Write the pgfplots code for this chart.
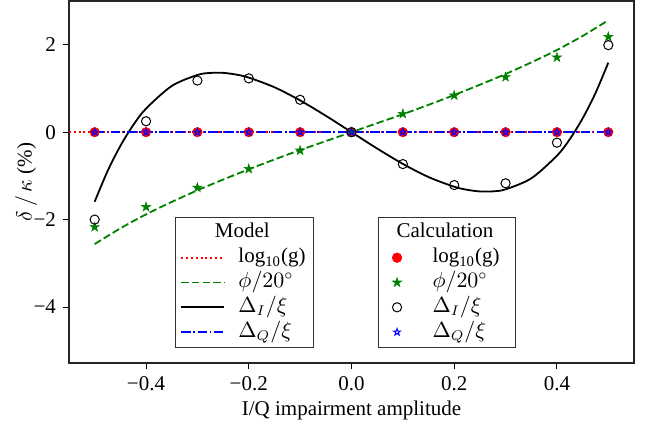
\documentclass[border=0pt]{standalone}
\usepackage{fontspec}
\setmainfont{Liberation Serif}
\usepackage{pgfplots}
\pgfplotsset{compat=1.18}

\pgfdeclareplotmark{fstar}{%
 \pgfpathmoveto{\pgfpointpolar{90}{\pgfplotmarksize}}%
 \pgfpathlineto{\pgfpointpolar{126}{0.382\pgfplotmarksize}}%
 \pgfpathlineto{\pgfpointpolar{162}{\pgfplotmarksize}}%
 \pgfpathlineto{\pgfpointpolar{198}{0.382\pgfplotmarksize}}%
 \pgfpathlineto{\pgfpointpolar{234}{\pgfplotmarksize}}%
 \pgfpathlineto{\pgfpointpolar{270}{0.382\pgfplotmarksize}}%
 \pgfpathlineto{\pgfpointpolar{306}{\pgfplotmarksize}}%
 \pgfpathlineto{\pgfpointpolar{342}{0.382\pgfplotmarksize}}%
 \pgfpathlineto{\pgfpointpolar{18}{\pgfplotmarksize}}%
 \pgfpathlineto{\pgfpointpolar{54}{0.382\pgfplotmarksize}}%
 \pgfpathclose
 \pgfusepathqfillstroke}
\pgfdeclareplotmark{ostar}{%
 \pgfpathmoveto{\pgfpointpolar{90}{\pgfplotmarksize}}%
 \pgfpathlineto{\pgfpointpolar{126}{0.382\pgfplotmarksize}}%
 \pgfpathlineto{\pgfpointpolar{162}{\pgfplotmarksize}}%
 \pgfpathlineto{\pgfpointpolar{198}{0.382\pgfplotmarksize}}%
 \pgfpathlineto{\pgfpointpolar{234}{\pgfplotmarksize}}%
 \pgfpathlineto{\pgfpointpolar{270}{0.382\pgfplotmarksize}}%
 \pgfpathlineto{\pgfpointpolar{306}{\pgfplotmarksize}}%
 \pgfpathlineto{\pgfpointpolar{342}{0.382\pgfplotmarksize}}%
 \pgfpathlineto{\pgfpointpolar{18}{\pgfplotmarksize}}%
 \pgfpathlineto{\pgfpointpolar{54}{0.382\pgfplotmarksize}}%
 \pgfpathclose
 \pgfusepathqstroke}

\definecolor{mplgreen}{RGB}{0,128,0}
\newcommand{\chartfont}{\fontsize{10.5}{12.6}\selectfont}

\begin{document}
\begin{tikzpicture}
\pgfplotsset{
  common/.style={
    scale only axis, width=282.5pt, height=181pt,
    xmin=-0.55, xmax=0.55, ymin=-5.28, ymax=3.0,
  },
  legbox/.style={
    legend cell align=left,
    legend style={draw=black!80, line width=0.5pt, fill=white,
      inner xsep=2.5pt, inner ysep=1.5pt, column sep=5pt,
      nodes={inner sep=1.5pt, text height=7.2pt, text depth=2.2pt, font=\chartfont},
      anchor=south west},
  },
}
\begin{axis}[common, name=ax,
  tick align=outside, xtick pos=bottom, ytick pos=left,
  xtick={-0.4,-0.2,0,0.2,0.4}, xticklabels={−0.4,−0.2,0.0,0.2,0.4},
  ytick={-4,-2,0,2}, yticklabels={−4,−2,0,2},
  tick label style={font=\chartfont},
  label style={font=\chartfont},
  major tick length=3pt,
  axis line style={line width=0.6pt, black!85},
  every tick/.style={black, line width=0.5pt},
  xlabel={I/Q impairment amplitude},
  ylabel={$\delta\,/\,\kappa$ (\%)},
  xlabel style={at={(axis description cs:0.5,-0.13)}, anchor=center},
  ylabel style={at={(axis description cs:-0.076,0.5)}, anchor=center},
  legbox,
  legend style={at={(rel axis cs:0.1876,0.0414)}},
  legend image code/.code={\draw[#1] (0pt,0pt) -- (21.5pt,0pt);},
]
\addlegendimage{empty legend}
\addlegendentry{\hspace*{-11.75pt}Model}

\addplot[red, line width=1pt, dash pattern=on 1pt off 1.4pt]
  coordinates {(-0.55,0) (0.5,0)};
\addlegendentry{log\textsubscript{10}(g)}

\addplot[mplgreen, line width=0.9pt, dash pattern=on 3.7pt off 1.6pt, smooth]
  coordinates {(-0.5,-2.56) (-0.45,-2.2) (-0.4,-1.88) (-0.35,-1.595) (-0.3,-1.33)
   (-0.25,-1.085) (-0.2,-0.85) (-0.15,-0.625) (-0.1,-0.41) (-0.05,-0.205) (0,0)
   (0.05,0.205) (0.1,0.41) (0.15,0.625) (0.2,0.85) (0.25,1.085) (0.3,1.33)
   (0.35,1.595) (0.4,1.88) (0.45,2.2) (0.5,2.56)};
\addlegendentry{$\phi/20^{\circ}$}

\addplot[black, line width=0.9pt, smooth]
  coordinates {(-0.5,-1.59) (-0.475,-0.893) (-0.45,-0.3145) (-0.425,0.161)
   (-0.4,0.539) (-0.35,1.056) (-0.3,1.308) (-0.275,1.354) (-0.25,1.356)
   (-0.225,1.318) (-0.2,1.248) (-0.15,1.027) (-0.1,0.726) (-0.05,0.375) (0,0)
   (0.05,-0.375) (0.1,-0.726) (0.15,-1.027) (0.2,-1.248) (0.225,-1.318)
   (0.25,-1.356) (0.275,-1.354) (0.3,-1.308) (0.35,-1.056) (0.4,-0.539)
   (0.425,-0.161) (0.45,0.3145) (0.475,0.893) (0.5,1.59)};
\addlegendentry{$\Delta_I/\xi$}

\addplot[blue, line width=0.9pt, dash pattern=on 4.8pt off 1.2pt on 0.9pt off 1.2pt]
  coordinates {(-0.5,0) (0.5,0)};
\addlegendentry{$\Delta_Q/\xi$}
\end{axis}

\begin{axis}[common, hide axis,
  legbox,
  legend style={at={(rel axis cs:0.547,0.0414)}},
  legend image code/.code={\path (0pt,0pt) (17.5pt,0pt); \draw[mark repeat=2,mark phase=2,#1] plot coordinates {(0pt,0pt) (6.5pt,0pt) (17.5pt,0pt)};},
]
\addlegendimage{empty legend}
\addlegendentry{\hspace*{-18pt}Calculation\hspace*{7pt}}

\addplot[only marks, mark=*, mark size=2.3pt, red, mark options={draw=red, fill=red}]
  coordinates {(-0.5,0) (-0.4,0) (-0.3,0) (-0.2,0) (-0.1,0) (0,0) (0.1,0) (0.2,0) (0.3,0) (0.4,0) (0.5,0)};
\addlegendentry{log\textsubscript{10}(g)}

\addplot[only marks, mark=fstar, mark size=2.4pt, mplgreen, mark options={draw=mplgreen, fill=mplgreen, line width=0.3pt}]
  coordinates {(-0.5,-2.17) (-0.4,-1.71) (-0.3,-1.27) (-0.2,-0.84) (-0.1,-0.42) (0,0)
   (0.1,0.42) (0.2,0.84) (0.3,1.26) (0.4,1.71) (0.5,2.18)};
\addlegendentry{$\phi/20^{\circ}$}

\addplot[only marks, mark=o, mark size=2.3pt, black, mark options={draw=black, line width=0.5pt}]
  coordinates {(-0.5,-2.0) (-0.4,0.25) (-0.3,1.18) (-0.2,1.23) (-0.1,0.74) (0,0)
   (0.1,-0.73) (0.2,-1.21) (0.3,-1.17) (0.4,-0.24) (0.5,1.99)};
\addlegendentry{$\Delta_I/\xi$}

\addplot[only marks, mark=ostar, mark size=1.8pt, blue, mark options={draw=blue, line width=0.5pt}]
  coordinates {(-0.5,0) (-0.4,0) (-0.3,0) (-0.2,0) (-0.1,0) (0,0) (0.1,0) (0.2,0) (0.3,0) (0.4,0) (0.5,0)};
\addlegendentry{$\Delta_Q/\xi$}
\end{axis}

\path ([xshift=-34.5pt,yshift=-32.5pt]ax.south west) rectangle ([xshift=11.5pt,yshift=0.5pt]ax.north east);
\end{tikzpicture}
\end{document}
